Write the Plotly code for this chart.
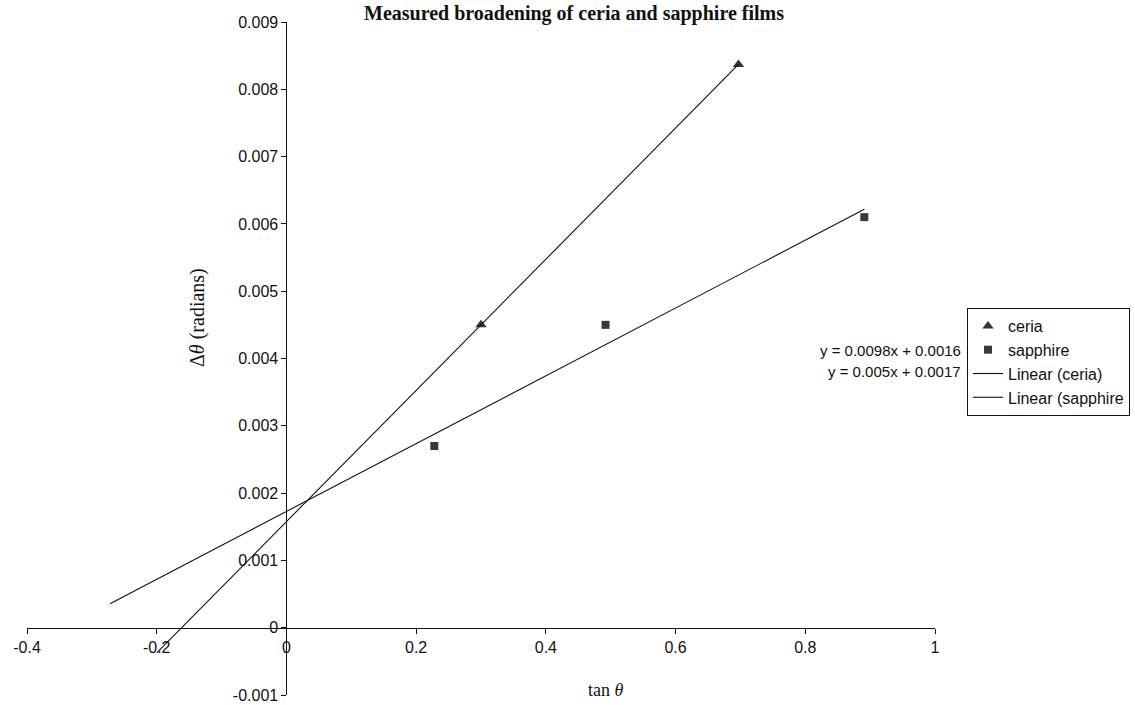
import numpy as np
import plotly.graph_objects as go

# ---- data ----
ceria_x = [0.30, 0.697]
ceria_y = [0.0045, 0.00837]
sapphire_x = [0.228, 0.492, 0.891]
sapphire_y = [0.0027, 0.0045, 0.0061]
trend_backcast = 0.5  # Excel trendline "forecast backward" period
equation_labels = ["y = 0.0098x + 0.0016", "y = 0.005x + 0.0017"]

x_ticks = [-0.4, -0.2, 0, 0.2, 0.4, 0.6, 0.8, 1]
x_tick_text = ["-0.4", "-0.2", "0", "0.2", "0.4", "0.6", "0.8", "1"]
y_ticks = [-0.001, 0, 0.001, 0.002, 0.003, 0.004, 0.005, 0.006, 0.007, 0.008, 0.009]
y_tick_text = ["-0.001", "0", "0.001", "0.002", "0.003", "0.004", "0.005",
               "0.006", "0.007", "0.008", "0.009"]
x_range = [-0.4, 1.0]
y_range = [-0.001, 0.009]


def trend(xs, ys):
    k, b = np.polyfit(xs, ys, 1)
    x0 = min(xs) - trend_backcast
    x1 = max(xs)
    return [x0, x1], [k * x0 + b, k * x1 + b]


cx, cy = trend(ceria_x, ceria_y)
sx, sy = trend(sapphire_x, sapphire_y)

W, H = 1135, 705
ML, MR, MT, MB = 27, 200, 22, 10
PW = W - ML - MR
PH = H - MT - MB

fig = go.Figure()
fig.add_trace(go.Scatter(x=ceria_x, y=ceria_y, mode="markers", name="ceria",
                         legendgroup="a",
                         marker=dict(symbol="triangle-up", size=10, color="#333333")))
fig.add_trace(go.Scatter(x=sapphire_x, y=sapphire_y, mode="markers", name="sapphire",
                         legendgroup="b",
                         marker=dict(symbol="square", size=8, color="#3a3a3a")))
fig.add_trace(go.Scatter(x=cx, y=cy, mode="lines", name="Linear (ceria)",
                         legendgroup="c",
                         line=dict(color="#111111", width=1.1)))
fig.add_trace(go.Scatter(x=sx, y=sy, mode="lines", name="Linear (sapphire",
                         legendgroup="d",
                         line=dict(color="#111111", width=1.1)))

tick_font = dict(family="Liberation Sans, Arial, sans-serif", size=16, color="#111111")

y_pos = (0 - x_range[0]) / (x_range[1] - x_range[0])
x_pos = (0 - y_range[0]) / (y_range[1] - y_range[0])

fig.update_layout(
    width=W, height=H,
    margin=dict(l=ML, r=MR, t=MT, b=MB, autoexpand=False),
    plot_bgcolor="white", paper_bgcolor="white",
    showlegend=True,
    legend=dict(
        x=(967 - ML) / PW, xanchor="left",
        y=(H - MB - 308) / PH, yanchor="top",
        bordercolor="#111111", borderwidth=1, bgcolor="white",
        font=dict(family="Liberation Sans, Arial, sans-serif", size=16, color="#111111"),
        tracegroupgap=0, itemwidth=30,
    ),
    xaxis=dict(
        range=x_range, anchor="free", position=x_pos,
        showgrid=False, zeroline=False, showline=True, linecolor="#111111", linewidth=1,
        tickmode="array", tickvals=x_ticks, ticktext=x_tick_text,
        ticks="outside", ticklen=5, tickcolor="#111111", tickfont=tick_font,
        automargin=False,
    ),
    yaxis=dict(
        range=y_range, anchor="free", position=y_pos,
        showgrid=False, zeroline=False, showline=True, linecolor="#111111", linewidth=1,
        tickmode="array", tickvals=y_ticks, ticktext=y_tick_text,
        ticks="outside", ticklen=5, tickcolor="#111111", tickfont=tick_font,
        automargin=False,
    ),
)

serif = "Liberation Serif, Times New Roman, serif"
annotations = [
    dict(text="<b>Measured broadening of ceria and sapphire films</b>",
         xref="paper", yref="paper", x=(574 - ML) / PW, y=(H - MB - 13) / PH,
         xanchor="center", yanchor="middle", showarrow=False,
         font=dict(family=serif, size=20, color="#111111")),
    dict(text="tan <i>θ</i>",
         xref="paper", yref="paper", x=(606 - ML) / PW, y=(H - MB - 690) / PH,
         xanchor="center", yanchor="middle", showarrow=False,
         font=dict(family=serif, size=18, color="#111111")),
    dict(text="Δ<i>θ</i> (radians)", textangle=-90,
         xref="paper", yref="paper", x=(197 - ML) / PW, y=(H - MB - 318) / PH,
         xanchor="center", yanchor="middle", showarrow=False,
         font=dict(family=serif, size=20, color="#111111")),
]
for i, t in enumerate(equation_labels):
    annotations.append(dict(
        text=t, xref="paper", yref="paper",
        x=(963 - ML) / PW, y=(H - MB - (350 + 22 * i)) / PH,
        xanchor="right", yanchor="middle", showarrow=False,
        font=dict(family="Liberation Sans, Arial, sans-serif", size=15, color="#111111")))
fig.update_layout(annotations=annotations)

fig.write_html(
    "out.html",
    config={"displayModeBar": False},
    post_script="document.body.style.margin='0px';document.body.style.overflow='hidden';",
)
